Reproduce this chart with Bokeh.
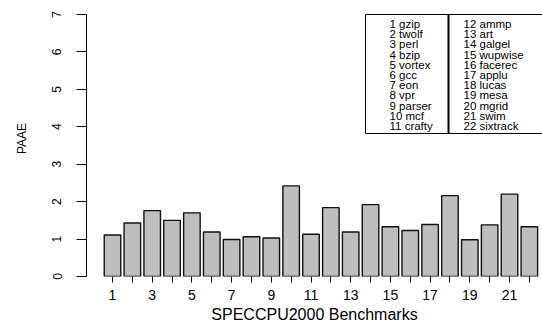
from bokeh.plotting import figure
from bokeh.models import ColumnDataSource, Range1d, FixedTicker
from bokeh.embed import file_html
from bokeh.resources import INLINE
from bokeh.core.properties import value

# ---- data ----
bench_ids = list(range(1, 23))
paae = [1.11, 1.43, 1.76, 1.50, 1.70, 1.19, 0.99, 1.06, 1.03, 2.42, 1.13,
        1.84, 1.19, 1.92, 1.33, 1.23, 1.39, 2.16, 0.98, 1.38, 2.20, 1.33]
bench_names = ["gzip", "twolf", "perl", "bzip", "vortex", "gcc", "eon", "vpr",
               "parser", "mcf", "crafty", "ammp", "art", "galgel", "wupwise",
               "facerec", "applu", "lucas", "mesa", "mgrid", "swim", "sixtrack"]
y_ticks = [0, 1, 2, 3, 4, 5, 6, 7]
x_tick_labels = {i: (str(i) if i % 2 == 1 else "") for i in bench_ids}

FONT = "Liberation Sans"
W, H = 542, 328

# pixel -> data helpers for layout-only elements
PX_PER_X = 19.85
PX_PER_Y = 37.43
X1_PX = 112.0
Y0_PX = 276.0
def px2x(px):
    return 1 + (px - X1_PX) / PX_PER_X
def px2y(py):
    return (Y0_PX - py) / PX_PER_Y

p = figure(width=W, height=H, output_backend="svg", toolbar_location=None,
           x_range=Range1d(px2x(86), px2x(W)),
           y_range=Range1d(0, px2y(0)),
           min_border_left=86, min_border_right=0, min_border_top=0,
           min_border_bottom=H - 276)
p.outline_line_color = None
p.xgrid.visible = False
p.ygrid.visible = False
p.background_fill_color = "white"
p.border_fill_color = "white"

src = ColumnDataSource(dict(x=bench_ids, top=paae))
p.vbar(x="x", top="top", bottom=0, width=1 / 1.2, source=src,
       fill_color="#bebebe", line_color="#111111", line_width=1.4)

# x axis
xa = p.xaxis[0]
xa.ticker = FixedTicker(ticks=bench_ids)
xa.major_label_overrides = x_tick_labels
xa.axis_line_color = None
xa.major_tick_out = 6
xa.major_tick_in = 0
xa.major_tick_line_color = "black"
xa.minor_tick_line_color = None
xa.major_label_text_font = FONT
xa.major_label_text_font_size = "14px"
xa.major_label_text_color = "black"
xa.major_label_standoff = 7
xa.axis_label = "SPECCPU2000 Benchmarks"
xa.axis_label_text_font = FONT
xa.axis_label_text_font_size = "16px"
xa.axis_label_text_font_style = "normal"
xa.axis_label_text_color = "black"
xa.axis_label_standoff = 3

# y axis
ya = p.yaxis[0]
ya.ticker = FixedTicker(ticks=y_ticks)
ya.bounds = (0, 7)
ya.axis_line_color = "black"
ya.major_tick_out = 10
ya.major_tick_in = 0
ya.major_tick_line_color = "black"
ya.minor_tick_line_color = None
ya.major_label_orientation = "vertical"
ya.major_label_text_font = FONT
ya.major_label_text_font_size = "12px"
ya.major_label_text_color = "black"
ya.major_label_standoff = 15
ya.axis_label = "PAAE"
ya.axis_label_text_font = FONT
ya.axis_label_text_font_size = "12px"
ya.axis_label_text_font_style = "normal"
ya.axis_label_text_color = "black"
ya.axis_label_standoff = 21

# legend box (layout element)
p.quad(left=[px2x(365)], right=[px2x(600)], top=[px2y(14)], bottom=[px2y(133)],
       fill_color="white", line_color="black", line_width=1)
p.segment(x0=[px2x(448)], x1=[px2x(448)], y0=[px2y(14)], y1=[px2y(133)],
          line_color="black", line_width=2)

rows = 11
lx, ly, lt = [], [], []
for i, name in enumerate(bench_names):
    col = i // rows
    r = i % rows
    lx.append(px2x(389 if col == 0 else 463))
    ly.append(px2y(23.3 + r * 10.24))
    lt.append(f"{i + 1} {name}")
p.text(x=lx, y=ly, text=lt, text_font=value(FONT), text_font_size="11.5px",
       text_align="left", text_baseline="middle", text_color="black")

open("out.html", "w").write(file_html(p, INLINE))
